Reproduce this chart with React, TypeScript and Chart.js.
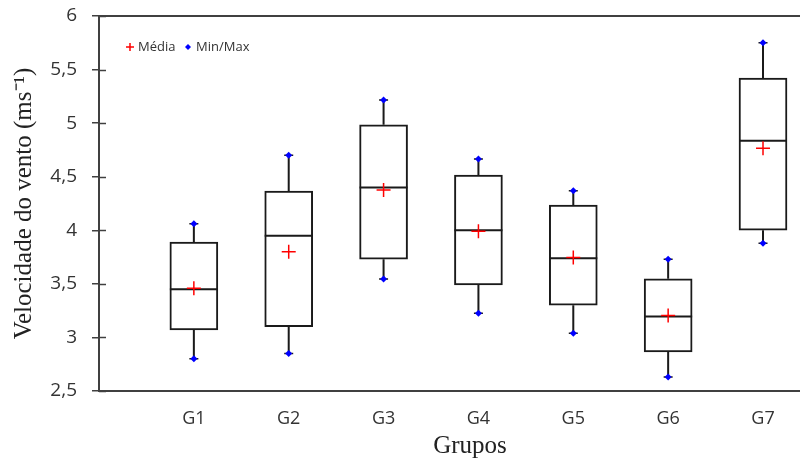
import React, { useEffect, useRef } from "react";
import { Chart, registerables } from "chart.js";

Chart.register(...registerables);

const categories = ["G1", "G2", "G3", "G4", "G5", "G6", "G7"];
const minValues = [2.8, 2.85, 3.545, 3.225, 3.04, 2.63, 3.88];
const q1Values = [3.07, 3.1, 3.73, 3.49, 3.3, 2.865, 4.0];
const medianValues = [3.45, 3.95, 4.4, 4.0, 3.74, 3.195, 4.835];
const meanValues = [3.46, 3.8, 4.375, 3.99, 3.745, 3.205, 4.765];
const q3Values = [3.89, 4.365, 4.985, 4.515, 4.235, 3.548, 5.42];
const maxValues = [4.06, 4.7, 5.215, 4.665, 4.37, 3.73, 5.75];

const yMin = 2.5;
const yMax = 6;
const yStep = 0.5;
const xMin = 0;
const xMax = 7.39;

const xTitle = "Grupos";
const yTitle = "Velocidade do vento (ms\u207B\u00B9)";
const legendMean = "Média";
const legendMinMax = "Min/Max";

const AXIS_COLOR = "#404040";
const TEXT_COLOR = "#333333";
const BOX_INDEX = 2;

const extrasPlugin = {
  id: "boxExtras",
  beforeDatasetsDraw(chart: any) {
    const { ctx, chartArea, scales } = chart;
    ctx.save();
    ctx.strokeStyle = AXIS_COLOR;
    ctx.lineWidth = 2;
    ctx.beginPath();
    ctx.moveTo(chartArea.left, chartArea.top);
    ctx.lineTo(chartArea.right, chartArea.top);
    ctx.stroke();
    // inner tick marks on y axis
    ctx.lineWidth = 1.5;
    scales.y.ticks.forEach((t: any) => {
      const y = Math.round(scales.y.getPixelForValue(t.value)) + 0.5;
      ctx.beginPath();
      ctx.moveTo(chartArea.left, y);
      ctx.lineTo(chartArea.left + 7, y);
      ctx.stroke();
    });
    ctx.restore();
  },
  afterDatasetDraw(chart: any, args: any) {
    if (args.index !== BOX_INDEX) return;
    const { ctx, scales } = chart;
    const xs = scales.x;
    const ys = scales.y;
    ctx.save();
    ctx.strokeStyle = "#1a1a1a";
    ctx.lineWidth = 2;
    categories.forEach((_, i) => {
      const bar = args.meta.data[i];
      const x = xs.getPixelForValue(i + 1);
      const half = bar && bar.width ? bar.width / 2 : 24;
      const ym = ys.getPixelForValue(medianValues[i]);
      ctx.beginPath();
      ctx.moveTo(x - half, ym);
      ctx.lineTo(x + half, ym);
      ctx.moveTo(x, ys.getPixelForValue(q3Values[i]));
      ctx.lineTo(x, ys.getPixelForValue(maxValues[i]));
      ctx.moveTo(x, ys.getPixelForValue(q1Values[i]));
      ctx.lineTo(x, ys.getPixelForValue(minValues[i]));
      ctx.stroke();
      ctx.beginPath();
      ctx.lineWidth = 1.5;
      const yt = ys.getPixelForValue(maxValues[i]);
      const yb = ys.getPixelForValue(minValues[i]);
      ctx.moveTo(x - 4.5, yt);
      ctx.lineTo(x + 4.5, yt);
      ctx.moveTo(x - 4.5, yb);
      ctx.lineTo(x + 4.5, yb);
      ctx.stroke();
      ctx.lineWidth = 2;
    });
    ctx.restore();
  },
  afterDraw(chart: any) {
    const { ctx, chartArea } = chart;
    const ly = chartArea.top + 31;
    const lx = chartArea.left + 31;
    ctx.save();
    ctx.strokeStyle = "#ff0000";
    ctx.lineWidth = 1.5;
    ctx.beginPath();
    ctx.moveTo(lx - 4, ly);
    ctx.lineTo(lx + 4, ly);
    ctx.moveTo(lx, ly - 4);
    ctx.lineTo(lx, ly + 4);
    ctx.stroke();
    ctx.font = '13px "Open Sans"';
    ctx.fillStyle = TEXT_COLOR;
    ctx.textBaseline = "middle";
    ctx.textAlign = "left";
    ctx.fillText(legendMean, lx + 8, ly);
    const dx = lx + 58;
    ctx.fillStyle = "#0000ff";
    ctx.beginPath();
    ctx.moveTo(dx, ly - 3);
    ctx.lineTo(dx + 3, ly);
    ctx.lineTo(dx, ly + 3);
    ctx.lineTo(dx - 3, ly);
    ctx.closePath();
    ctx.fill();
    ctx.fillStyle = TEXT_COLOR;
    ctx.fillText(legendMinMax, dx + 8, ly);
    ctx.restore();
  },
};

export default function App() {
  const canvasRef = useRef<HTMLCanvasElement | null>(null);

  useEffect(() => {
    const canvas = canvasRef.current;
    if (!canvas) return;
    const chart = new Chart(canvas, {
      type: "bar",
      data: {
        datasets: [
          {
            type: "scatter",
            label: legendMean,
            data: meanValues.map((v, i) => ({ x: i + 1, y: v })),
            pointStyle: "cross",
            pointRadius: 7,
            pointBorderWidth: 1.5,
            borderColor: "#ff0000",
            backgroundColor: "#ff0000",
          } as any,
          {
            type: "scatter",
            label: legendMinMax,
            data: [
              ...minValues.map((v, i) => ({ x: i + 1, y: v })),
              ...maxValues.map((v, i) => ({ x: i + 1, y: v })),
            ],
            pointStyle: "rectRot",
            pointRadius: 3.5,
            pointBorderWidth: 0,
            borderColor: "#0000ff",
            backgroundColor: "#0000ff",
          } as any,
          {
            type: "bar",
            label: "box",
            data: categories.map((_, i) => ({ x: i + 1, y: [q1Values[i], q3Values[i]] })),
            backgroundColor: "#ffffff",
            borderColor: "#1a1a1a",
            borderWidth: 2,
            borderSkipped: false,
            barThickness: 48,
            grouped: false,
          } as any,
        ],
      },
      options: {
        responsive: false,
        animation: false,
        layout: { autoPadding: false, padding: { left: 0, right: 0, top: 16, bottom: 0 } },
        plugins: {
          legend: { display: false },
          tooltip: { enabled: false },
        },
        scales: {
          x: {
            type: "linear",
            offset: false,
            min: xMin,
            max: xMax,
            afterFit: (scale: any) => {
              scale.height = 68;
              scale.paddingLeft = 0;
              scale.paddingRight = 0;
            },
            afterBuildTicks: (scale: any) => {
              scale.ticks = categories.map((_, i) => ({ value: i + 1 }));
            },
            grid: { display: false, offset: false },
            border: { display: true, color: AXIS_COLOR, width: 2 },
            ticks: {
              autoSkip: false,
              maxRotation: 0,
              padding: 9,
              color: TEXT_COLOR,
              font: { family: "Open Sans", size: 18 },
              callback: (v: any) => categories[Math.round(Number(v)) - 1] ?? "",
            },
          },
          y: {
            min: yMin,
            max: yMax,
            afterFit: (scale: any) => {
              scale.width = 99;
              scale.paddingTop = 0;
              scale.paddingBottom = 0;
            },
            grid: {
              drawOnChartArea: false,
              tickLength: 7,
              color: AXIS_COLOR,
              lineWidth: 1.5,
            },
            border: { display: true, color: AXIS_COLOR, width: 2 },
            ticks: {
              stepSize: yStep,
              padding: 15,
              color: TEXT_COLOR,
              font: { family: "Open Sans", size: 19 },
              callback: (v: any) => String(Number(v)).replace(".", ","),
            },
            title: {
              display: true,
              text: yTitle,
              color: "#222222",
              font: { family: "Liberation Serif", size: 25 },
              padding: { top: 9, bottom: 0 },
            },
          },
        },
      },
      plugins: [extrasPlugin],
    } as any);
    return () => chart.destroy();
  }, []);

  return (
    <div style={{ position: "absolute", left: 0, top: 0, width: 800, height: 459, background: "#fff" }}>
      <canvas ref={canvasRef} width={800} height={459} style={{ display: "block" }} />
      <div
        style={{
          position: "absolute",
          left: 470,
          top: 432,
          transform: "translateX(-50%)",
          fontFamily: "Liberation Serif",
          fontSize: 25,
          lineHeight: "25px",
          color: "#222222",
          whiteSpace: "nowrap",
        }}
      >
        {xTitle}
      </div>
    </div>
  );
}
